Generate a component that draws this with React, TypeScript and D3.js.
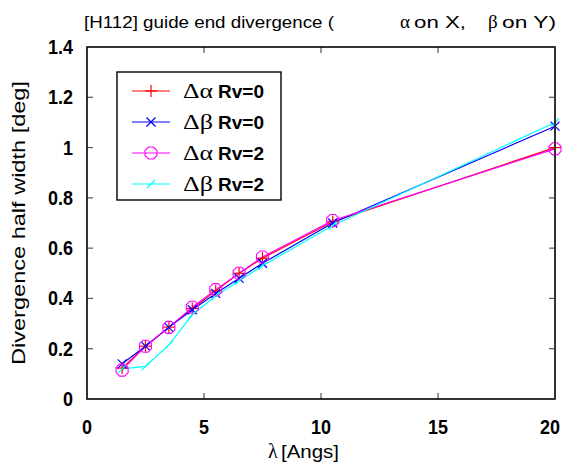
import React from "react";
import * as d3 from "d3";

const lambdas = [1.5, 2.5, 3.5, 4.5, 5.5, 6.5, 7.5, 10.5, 20];
const alphaRv0 = [0.123, 0.21, 0.286, 0.36, 0.43, 0.5, 0.56, 0.705, 1.0];
const betaRv0 = [0.14, 0.21, 0.285, 0.355, 0.42, 0.48, 0.54, 0.7, 1.085];
const alphaRv2 = [0.115, 0.21, 0.285, 0.365, 0.435, 0.5, 0.565, 0.71, 0.995];
const betaRv2 = [0.12, 0.13, 0.215, 0.335, 0.41, 0.47, 0.53, 0.69, 1.1];

const xTicks = [0, 5, 10, 15, 20];
const yTicks = [0, 0.2, 0.4, 0.6, 0.8, 1, 1.2, 1.4];

const series = [
  { key: "a0", greek: "Δα", rv: "Rv=0", values: alphaRv0, color: "#ff0000", marker: "plus" },
  { key: "b0", greek: "Δβ", rv: "Rv=0", values: betaRv0, color: "#0000ff", marker: "cross" },
  { key: "a2", greek: "Δα", rv: "Rv=2", values: alphaRv2, color: "#ff00ff", marker: "circle" },
  { key: "b2", greek: "Δβ", rv: "Rv=2", values: betaRv2, color: "#00ffff", marker: "slash" },
];

const L = 87, R = 555, T = 47, B = 399;
const x = d3.scaleLinear().domain([0, 20]).range([L, R]);
const y = d3.scaleLinear().domain([0, 1.4]).range([B, T]);

const sans = "'Liberation Sans Narrow', 'Liberation Sans', Arial, sans-serif";
const serif = "'Liberation Serif', 'DejaVu Serif', serif";

function Marker({ type, cx, cy, color }: { type: string; cx: number; cy: number; color: string }) {
  if (type === "plus") {
    const s = 6;
    return (
      <g stroke={color} strokeWidth={1.2}>
        <line x1={cx - s} x2={cx + s} y1={cy} y2={cy} />
        <line x1={cx} x2={cx} y1={cy - s} y2={cy + s} />
      </g>
    );
  }
  if (type === "cross") {
    const s = 4.5;
    return (
      <g stroke={color} strokeWidth={1.2}>
        <line x1={cx - s} x2={cx + s} y1={cy - s} y2={cy + s} />
        <line x1={cx - s} x2={cx + s} y1={cy + s} y2={cy - s} />
      </g>
    );
  }
  if (type === "circle") {
    const r = 6.5;
    const pts = d3.range(8).map((i) => {
      const a = (Math.PI / 8) + (i * Math.PI) / 4;
      return [cx + r * Math.cos(a), cy + r * Math.sin(a)];
    });
    return <polygon points={pts.map((p) => p.join(",")).join(" ")} fill="none" stroke={color} strokeWidth={1.1} />;
  }
  const s = 4;
  return <line x1={cx - s} x2={cx + s} y1={cy + s} y2={cy - s} stroke={color} strokeWidth={1.2} />;
}

export default function App() {
  const line = d3
    .line<number>()
    .x((_, i) => x(lambdas[i]))
    .y((d) => y(d));

  const legendRows = [91, 122, 153, 184];

  return (
    <svg width={563} height={466} style={{ position: "absolute", left: 0, top: 0, background: "#fff" }}>
      <rect x={0} y={0} width={563} height={466} fill="#fff" />
      {/* title */}
      <g fontFamily={sans} fontSize={17} fill="#000">
        <text x={84} y={28} textLength={250} lengthAdjust="spacingAndGlyphs">[H112] guide end divergence (</text>
        <text x={400} y={28} fontFamily={serif} fontSize={19}>α</text>
        <text x={414} y={28} textLength={52} lengthAdjust="spacingAndGlyphs">on X,</text>
        <text x={488} y={28} fontFamily={serif} fontSize={19}>β</text>
        <text x={502} y={28} textLength={54} lengthAdjust="spacingAndGlyphs">on Y)</text>
      </g>

      {/* ticks */}
      <g stroke="#555" strokeWidth={1.2}>
        {xTicks.slice(1, -1).map((t) => (
          <g key={"xt" + t}>
            <line x1={x(t)} x2={x(t)} y1={B} y2={B - 6} />
            <line x1={x(t)} x2={x(t)} y1={T} y2={T + 6} />
          </g>
        ))}
        {yTicks.slice(1, -1).map((t) => (
          <g key={"yt" + t}>
            <line x1={L} x2={L + 6} y1={y(t)} y2={y(t)} />
            <line x1={R} x2={R - 6} y1={y(t)} y2={y(t)} />
          </g>
        ))}
      </g>

      {/* data lines */}
      {series.map((s) => (
        <path key={s.key} d={line(s.values) || ""} fill="none" stroke={s.color} strokeWidth={1.2} />
      ))}
      {series.map((s) =>
        s.values.map((v, i) => (
          <Marker key={s.key + i} type={s.marker} cx={x(lambdas[i])} cy={y(v)} color={s.color} />
        ))
      )}

      {/* frame */}
      <rect x={L} y={T} width={R - L} height={B - T} fill="none" stroke="#000" strokeWidth={1.6} />
      <line x1={R} x2={R} y1={T} y2={B} stroke="#333" strokeWidth={2} />

      {/* tick labels */}
      <g fontFamily={sans} fontWeight="bold" fontSize={21} fill="#000">
        {xTicks.map((t) => (
          <text key={"xl" + t} x={Math.min(x(t), 550)} y={434} textAnchor="middle" textLength={t < 10 ? 10 : 20} lengthAdjust="spacingAndGlyphs">
            {t}
          </text>
        ))}
        {yTicks.map((t) => {
          const lbl = d3.format("~g")(t);
          return (
            <text key={"yl" + t} x={73} y={y(t) + 7} textAnchor="end" textLength={lbl.length > 1 ? 25 : 10} lengthAdjust="spacingAndGlyphs">
              {lbl}
            </text>
          );
        })}
      </g>

      {/* axis titles */}
      <g fontFamily={sans} fontSize={18} fill="#000">
        <text x={0} y={0} transform={`translate(25,${(T + B) / 2}) rotate(-90)`} textAnchor="middle" textLength={284} lengthAdjust="spacingAndGlyphs">
          Divergence half width [deg]
        </text>
        <text x={268} y={458} fontFamily={serif} fontSize={20}>λ</text>
        <text x={281} y={458} textLength={58} lengthAdjust="spacingAndGlyphs">[Angs]</text>
      </g>

      {/* legend */}
      <rect x={117} y={72} width={164} height={128} fill="#fff" stroke="#000" strokeWidth={1.4} />
      {series.map((s, i) => (
        <g key={"lg" + s.key}>
          <line x1={132} x2={170} y1={legendRows[i]} y2={legendRows[i]} stroke={s.color} strokeWidth={1.2} />
          <Marker type={s.marker} cx={151} cy={legendRows[i]} color={s.color} />
          <text x={183} y={legendRows[i] + 7} fontFamily={serif} fontSize={20} textLength={30} lengthAdjust="spacingAndGlyphs">
            {s.greek}
          </text>
          <text x={218} y={legendRows[i] + 7} fontFamily={sans} fontWeight="bold" fontSize={19} textLength={46} lengthAdjust="spacingAndGlyphs">
            {s.rv}
          </text>
        </g>
      ))}
    </svg>
  );
}
